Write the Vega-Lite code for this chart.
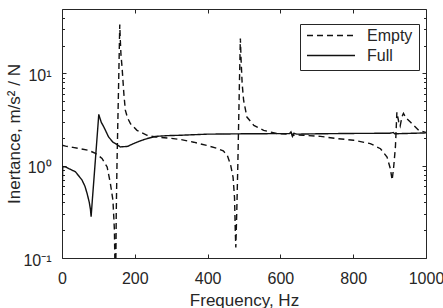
{
  "$schema": "https://vega.github.io/schema/vega-lite/v6.json",
  "width": 364,
  "height": 249,
  "autosize": "none",
  "padding": {"left": 62, "top": 9, "right": 17, "bottom": 50},
  "background": "white",
  "config": {
    "font": "Liberation Sans",
    "view": {"stroke": "#262626", "strokeWidth": 1},
    "axis": {
      "domain": false,
      "grid": false,
      "labelFont": "Liberation Sans",
      "labelFontSize": 16,
      "labelColor": "#262626",
      "tickColor": "#262626",
      "tickWidth": 1,
      "titleFont": "Liberation Sans",
      "titleFontSize": 17,
      "titleFontWeight": "normal",
      "titleColor": "#262626"
    }
  },
  "data": {
    "values": [
      {"f": 0, "v": 1.67, "s": "Empty"},
      {"f": 10, "v": 1.63, "s": "Empty"},
      {"f": 30, "v": 1.58, "s": "Empty"},
      {"f": 50, "v": 1.53, "s": "Empty"},
      {"f": 73, "v": 1.47, "s": "Empty"},
      {"f": 92, "v": 1.36, "s": "Empty"},
      {"f": 110, "v": 1.2, "s": "Empty"},
      {"f": 124, "v": 0.97, "s": "Empty"},
      {"f": 133, "v": 0.64, "s": "Empty"},
      {"f": 140, "v": 0.42, "s": "Empty"},
      {"f": 144, "v": 0.2, "s": "Empty"},
      {"f": 147, "v": 0.03, "s": "Empty"},
      {"f": 149, "v": 0.3, "s": "Empty"},
      {"f": 151, "v": 1.0, "s": "Empty"},
      {"f": 153, "v": 2.5, "s": "Empty"},
      {"f": 155, "v": 6, "s": "Empty"},
      {"f": 157, "v": 15, "s": "Empty"},
      {"f": 158.7, "v": 34, "s": "Empty"},
      {"f": 160, "v": 24, "s": "Empty"},
      {"f": 162, "v": 16, "s": "Empty"},
      {"f": 165, "v": 11.7, "s": "Empty"},
      {"f": 170, "v": 6.0, "s": "Empty"},
      {"f": 174, "v": 4.0, "s": "Empty"},
      {"f": 180, "v": 3.3, "s": "Empty"},
      {"f": 188, "v": 2.86, "s": "Empty"},
      {"f": 206, "v": 2.42, "s": "Empty"},
      {"f": 234, "v": 2.14, "s": "Empty"},
      {"f": 257, "v": 2.05, "s": "Empty"},
      {"f": 289, "v": 2.0, "s": "Empty"},
      {"f": 325, "v": 1.93, "s": "Empty"},
      {"f": 362, "v": 1.8, "s": "Empty"},
      {"f": 400, "v": 1.65, "s": "Empty"},
      {"f": 425, "v": 1.55, "s": "Empty"},
      {"f": 443, "v": 1.45, "s": "Empty"},
      {"f": 454, "v": 1.3, "s": "Empty"},
      {"f": 463, "v": 1.03, "s": "Empty"},
      {"f": 470, "v": 0.75, "s": "Empty"},
      {"f": 474, "v": 0.45, "s": "Empty"},
      {"f": 476, "v": 0.2, "s": "Empty"},
      {"f": 477.5, "v": 0.13, "s": "Empty"},
      {"f": 480, "v": 0.3, "s": "Empty"},
      {"f": 483, "v": 1.0, "s": "Empty"},
      {"f": 486, "v": 4, "s": "Empty"},
      {"f": 488, "v": 10, "s": "Empty"},
      {"f": 490, "v": 24, "s": "Empty"},
      {"f": 492, "v": 14, "s": "Empty"},
      {"f": 495, "v": 7.7, "s": "Empty"},
      {"f": 499, "v": 5.1, "s": "Empty"},
      {"f": 508, "v": 3.37, "s": "Empty"},
      {"f": 527, "v": 2.74, "s": "Empty"},
      {"f": 554, "v": 2.42, "s": "Empty"},
      {"f": 591, "v": 2.23, "s": "Empty"},
      {"f": 620, "v": 2.2, "s": "Empty"},
      {"f": 630, "v": 2.27, "s": "Empty"},
      {"f": 634, "v": 2.12, "s": "Empty"},
      {"f": 640, "v": 2.17, "s": "Empty"},
      {"f": 664, "v": 2.14, "s": "Empty"},
      {"f": 710, "v": 2.08, "s": "Empty"},
      {"f": 756, "v": 1.97, "s": "Empty"},
      {"f": 801, "v": 1.89, "s": "Empty"},
      {"f": 847, "v": 1.74, "s": "Empty"},
      {"f": 875, "v": 1.53, "s": "Empty"},
      {"f": 893, "v": 1.24, "s": "Empty"},
      {"f": 902, "v": 0.93, "s": "Empty"},
      {"f": 907, "v": 0.7, "s": "Empty"},
      {"f": 911, "v": 0.95, "s": "Empty"},
      {"f": 916, "v": 1.6, "s": "Empty"},
      {"f": 920, "v": 3.8, "s": "Empty"},
      {"f": 925, "v": 3.0, "s": "Empty"},
      {"f": 929, "v": 2.7, "s": "Empty"},
      {"f": 934, "v": 3.4, "s": "Empty"},
      {"f": 938, "v": 3.7, "s": "Empty"},
      {"f": 945, "v": 3.3, "s": "Empty"},
      {"f": 957, "v": 2.98, "s": "Empty"},
      {"f": 980, "v": 2.42, "s": "Empty"},
      {"f": 1000, "v": 2.3, "s": "Empty"},
      {"f": 0, "v": 0.37, "s": "Full"},
      {"f": 2, "v": 0.98, "s": "Full"},
      {"f": 10, "v": 0.97, "s": "Full"},
      {"f": 19, "v": 0.93, "s": "Full"},
      {"f": 37, "v": 0.86, "s": "Full"},
      {"f": 55, "v": 0.7, "s": "Full"},
      {"f": 63, "v": 0.6, "s": "Full"},
      {"f": 69, "v": 0.5, "s": "Full"},
      {"f": 75, "v": 0.4, "s": "Full"},
      {"f": 78, "v": 0.34, "s": "Full"},
      {"f": 80, "v": 0.28, "s": "Full"},
      {"f": 84, "v": 0.46, "s": "Full"},
      {"f": 88, "v": 0.74, "s": "Full"},
      {"f": 92, "v": 1.2, "s": "Full"},
      {"f": 96, "v": 1.95, "s": "Full"},
      {"f": 99, "v": 2.8, "s": "Full"},
      {"f": 101, "v": 3.6, "s": "Full"},
      {"f": 104, "v": 3.3, "s": "Full"},
      {"f": 108, "v": 2.95, "s": "Full"},
      {"f": 115, "v": 2.63, "s": "Full"},
      {"f": 128, "v": 2.05, "s": "Full"},
      {"f": 140, "v": 1.8, "s": "Full"},
      {"f": 147, "v": 1.74, "s": "Full"},
      {"f": 160, "v": 1.6, "s": "Full"},
      {"f": 180, "v": 1.62, "s": "Full"},
      {"f": 197, "v": 1.74, "s": "Full"},
      {"f": 215, "v": 1.86, "s": "Full"},
      {"f": 234, "v": 1.97, "s": "Full"},
      {"f": 257, "v": 2.08, "s": "Full"},
      {"f": 290, "v": 2.12, "s": "Full"},
      {"f": 325, "v": 2.14, "s": "Full"},
      {"f": 400, "v": 2.2, "s": "Full"},
      {"f": 500, "v": 2.22, "s": "Full"},
      {"f": 600, "v": 2.23, "s": "Full"},
      {"f": 625, "v": 2.23, "s": "Full"},
      {"f": 629, "v": 2.33, "s": "Full"},
      {"f": 633, "v": 2.08, "s": "Full"},
      {"f": 637, "v": 2.25, "s": "Full"},
      {"f": 645, "v": 2.2, "s": "Full"},
      {"f": 700, "v": 2.22, "s": "Full"},
      {"f": 800, "v": 2.24, "s": "Full"},
      {"f": 900, "v": 2.25, "s": "Full"},
      {"f": 910, "v": 2.29, "s": "Full"},
      {"f": 914, "v": 2.22, "s": "Full"},
      {"f": 1000, "v": 2.27, "s": "Full"}
    ]
  },
  "layer": [
    {
      "mark": {"type": "line", "clip": true, "color": "#111111", "strokeWidth": 1.4},
      "encoding": {
        "x": {
          "field": "f", "type": "quantitative",
          "scale": {"domain": [0, 1000], "nice": false, "zero": false},
          "axis": {
            "orient": "bottom", "values": [0, 200, 400, 600, 800, 1000], "format": "d",
            "tickSize": -4, "labelPadding": 16, "labelFlush": false,
            "title": "Frequency, Hz", "titlePadding": 6
          }
        },
        "y": {
          "field": "v", "type": "quantitative",
          "scale": {"type": "log", "domain": [0.1, 50], "nice": false},
          "axis": {
            "orient": "left", "values": [0.1, 1, 10],
            "tickSize": -4, "labelPadding": 15, "labelOffset": 2, "labelFlush": false,
            "labelExpr": "datum.value < 0.5 ? '10⁻¹' : datum.value < 5 ? '10⁰' : '10¹'",
            "title": "Inertance, m/s² / N", "titlePadding": -1
          }
        },
        "strokeDash": {
          "field": "s", "type": "nominal",
          "scale": {"domain": ["Empty", "Full"], "range": [[6, 4], [1, 0]]},
          "legend": {
            "title": null,
            "orient": "none",
            "legendX": 238,
            "legendY": 15,
            "direction": "vertical",
            "fillColor": "white",
            "strokeColor": "#262626",
            "padding": 6,
            "symbolType": "stroke",
            "symbolSize": 2300,
            "symbolStrokeWidth": 1.5,
            "symbolStrokeColor": "#111111",
            "clipHeight": 11,
            "rowPadding": 3,
            "labelOffset": 11,
            "labelFont": "Liberation Sans",
            "labelFontSize": 16,
            "labelColor": "#262626"
          }
        }
      }
    },
    {
      "mark": {"type": "line", "opacity": 0},
      "encoding": {
        "x": {
          "field": "f", "type": "quantitative",
          "axis": {"orient": "top", "values": [0, 200, 400, 600, 800, 1000], "tickSize": -4, "labels": false, "title": null}
        },
        "y": {
          "field": "v", "type": "quantitative",
          "axis": {"orient": "right", "values": [0.1, 1, 10], "tickSize": -4, "labels": false, "title": null}
        },
        "detail": {"field": "s"}
      }
    },
    {
      "mark": {"type": "line", "opacity": 0},
      "encoding": {
        "x": {"field": "f", "type": "quantitative", "axis": null},
        "y": {
          "field": "v", "type": "quantitative",
          "axis": {"orient": "left", "values": [0.2, 0.3, 0.4, 0.5, 0.6, 0.7, 0.8, 0.9, 2, 3, 4, 5, 6, 7, 8, 9, 20, 30, 40], "tickSize": -2.5, "labels": false, "title": null}
        },
        "detail": {"field": "s"}
      }
    },
    {
      "mark": {"type": "line", "opacity": 0},
      "encoding": {
        "x": {"field": "f", "type": "quantitative", "axis": null},
        "y": {
          "field": "v", "type": "quantitative",
          "axis": {"orient": "right", "values": [0.2, 0.3, 0.4, 0.5, 0.6, 0.7, 0.8, 0.9, 2, 3, 4, 5, 6, 7, 8, 9, 20, 30, 40], "tickSize": -2.5, "labels": false, "title": null}
        },
        "detail": {"field": "s"}
      }
    }
  ],
  "resolve": {"axis": {"x": "independent", "y": "independent"}}
}
